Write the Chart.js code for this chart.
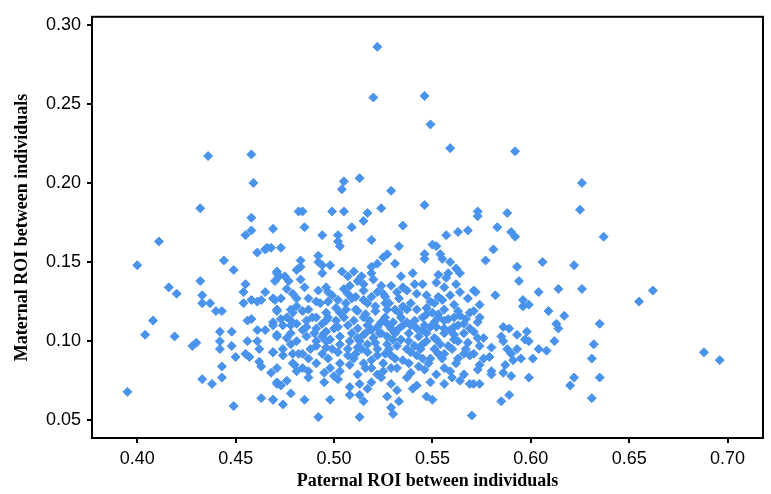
<!DOCTYPE html>
<html>
<head>
<meta charset="utf-8">
<script src="https://cdn.jsdelivr.net/npm/chart.js@4.4.0/dist/chart.umd.min.js"></script>
<style>
body{margin:0;background:#fff;}
</style>
</head>
<body>
<canvas id="roiChart" width="771" height="494"></canvas>
<script>
var xTicks = [0.40, 0.45, 0.50, 0.55, 0.60, 0.65, 0.70];
var yTicks = [0.05, 0.10, 0.15, 0.20, 0.25, 0.30];

// [paternal ROI, maternal ROI], one pair per individual
var roiPairs = [
    // sparse top
    [0.522,0.286],[0.520,0.254],[0.546,0.255],[0.549,0.237],[0.559,0.222],[0.436,0.217],[0.458,0.218],[0.592,0.220],
    [0.459,0.200],[0.626,0.200],[0.432,0.184],[0.458,0.178],[0.625,0.183],[0.505,0.201],[0.513,0.203],[0.504,0.196],
    [0.529,0.195],[0.546,0.186],[0.482,0.182],[0.484,0.182],[0.499,0.182],[0.505,0.182],[0.517,0.181],[0.524,0.184],
    [0.515,0.176],[0.573,0.182],[0.573,0.179],[0.588,0.181],
    // left part
    [0.411,0.163],[0.400,0.148],[0.455,0.167],[0.458,0.170],[0.469,0.171],[0.461,0.156],[0.465,0.158],[0.466,0.159],
    [0.444,0.151],[0.449,0.145],[0.432,0.138],[0.416,0.134],[0.420,0.130],[0.455,0.136],[0.454,0.131],[0.465,0.131],
    [0.433,0.129],[0.433,0.124],[0.437,0.124],[0.440,0.119],[0.443,0.119],[0.454,0.124],[0.458,0.126],[0.461,0.125],
    [0.463,0.126],[0.470,0.126],[0.471,0.120],[0.472,0.141],[0.471,0.143],[0.408,0.113],[0.404,0.104],[0.419,0.103],
    [0.428,0.097],[0.430,0.099],[0.442,0.106],[0.442,0.100],[0.442,0.095],[0.448,0.106],[0.448,0.097],[0.450,0.090],
    [0.455,0.092],[0.457,0.090],[0.456,0.113],[0.458,0.114],[0.461,0.107],[0.465,0.107],[0.469,0.112],[0.456,0.100],
    [0.461,0.100],[0.462,0.095],[0.462,0.087],[0.463,0.084],[0.469,0.093],[0.471,0.103],[0.468,0.080],[0.471,0.073],
    [0.443,0.084],[0.443,0.077],[0.433,0.076],[0.438,0.073],[0.395,0.068],[0.449,0.059],[0.463,0.064],[0.469,0.063],
    // 0.47 - 0.52 upper
    [0.485,0.172],[0.494,0.167],[0.502,0.167],[0.503,0.160],[0.502,0.163],[0.509,0.172],[0.519,0.164],[0.473,0.159],
    [0.468,0.159],[0.492,0.154],[0.492,0.150],[0.494,0.148],[0.498,0.148],[0.494,0.143],[0.483,0.151],[0.483,0.147],
    [0.481,0.145],[0.519,0.147],[0.519,0.143],[0.504,0.144],[0.507,0.141],[0.510,0.144],[0.471,0.144],[0.475,0.141],
    [0.477,0.138],[0.470,0.138],[0.483,0.139],[0.485,0.134],[0.514,0.141],[0.512,0.138],[0.515,0.136],[0.520,0.139],
    [0.508,0.135],[0.505,0.133],[0.497,0.131],[0.492,0.132],[0.476,0.133],[0.479,0.130],[0.473,0.127],[0.469,0.127],
    [0.487,0.127],[0.491,0.125],[0.497,0.125],[0.502,0.126],[0.507,0.130],[0.511,0.128],[0.515,0.126],[0.519,0.128],
    [0.522,0.131],[0.481,0.122],[0.484,0.119],[0.478,0.120],[0.471,0.119],[0.473,0.114],[0.478,0.113],[0.486,0.113],
    [0.491,0.115],[0.496,0.118],[0.501,0.121],[0.506,0.120],[0.512,0.119],[0.516,0.117],[0.521,0.119],[0.518,0.113],
    [0.510,0.113],[0.501,0.113],
    // 0.47 - 0.52 lower
    [0.469,0.110],[0.474,0.110],[0.481,0.111],[0.486,0.109],[0.491,0.108],[0.496,0.106],[0.502,0.109],[0.507,0.110],
    [0.512,0.108],[0.517,0.110],[0.522,0.109],[0.471,0.104],[0.476,0.102],[0.486,0.103],[0.491,0.100],[0.498,0.101],
    [0.503,0.103],[0.508,0.100],[0.515,0.104],[0.520,0.102],[0.524,0.105],[0.469,0.093],[0.474,0.091],[0.479,0.092],
    [0.484,0.092],[0.491,0.097],[0.496,0.096],[0.502,0.093],[0.507,0.091],[0.512,0.096],[0.517,0.093],[0.522,0.091],
    [0.480,0.085],[0.481,0.081],[0.487,0.081],[0.471,0.083],[0.495,0.080],[0.500,0.078],[0.503,0.081],[0.508,0.085],
    [0.512,0.079],[0.519,0.083],[0.522,0.079],[0.471,0.074],[0.476,0.075],[0.473,0.072],[0.495,0.074],[0.502,0.076],
    [0.508,0.071],[0.513,0.073],[0.517,0.070],[0.519,0.074],[0.478,0.067],[0.469,0.063],[0.474,0.060],[0.485,0.063],
    [0.498,0.063],[0.508,0.066],[0.513,0.066],[0.515,0.062],[0.492,0.052],[0.513,0.052],
    // 0.52 - 0.57 upper
    [0.535,0.173],[0.557,0.167],[0.563,0.169],[0.568,0.170],[0.533,0.160],[0.550,0.161],[0.552,0.160],[0.554,0.155],
    [0.555,0.152],[0.546,0.155],[0.546,0.152],[0.527,0.155],[0.525,0.153],[0.522,0.149],[0.531,0.149],[0.559,0.150],
    [0.562,0.146],[0.564,0.143],[0.558,0.143],[0.540,0.143],[0.534,0.141],[0.529,0.135],[0.541,0.136],[0.545,0.136],
    [0.553,0.142],[0.557,0.140],[0.552,0.137],[0.556,0.134],[0.562,0.136],[0.564,0.131],[0.571,0.132],[0.568,0.127],
    [0.524,0.135],[0.525,0.130],[0.532,0.131],[0.537,0.132],[0.542,0.130],[0.549,0.125],[0.555,0.126],[0.561,0.123],
    [0.521,0.122],[0.526,0.124],[0.531,0.120],[0.535,0.122],[0.542,0.120],[0.547,0.117],[0.553,0.117],[0.558,0.114],
    [0.564,0.116],[0.569,0.118],[0.573,0.112],[0.524,0.112],[0.530,0.112],[0.537,0.112],[0.546,0.110],[0.551,0.112],
    [0.561,0.109],
    // 0.52 - 0.57 lower
    [0.529,0.108],[0.535,0.110],[0.542,0.108],[0.549,0.109],[0.556,0.108],[0.563,0.110],[0.569,0.108],[0.527,0.098],
    [0.534,0.101],[0.541,0.097],[0.547,0.100],[0.554,0.098],[0.561,0.101],[0.568,0.099],[0.573,0.102],[0.529,0.091],
    [0.535,0.088],[0.542,0.091],[0.549,0.089],[0.556,0.092],[0.563,0.089],[0.569,0.091],[0.525,0.081],[0.532,0.083],
    [0.539,0.080],[0.546,0.082],[0.552,0.079],[0.559,0.081],[0.566,0.079],[0.573,0.082],[0.529,0.073],[0.542,0.072],
    [0.549,0.074],[0.556,0.073],[0.564,0.075],[0.569,0.073],[0.532,0.069],[0.527,0.065],[0.533,0.062],[0.540,0.070],
    [0.547,0.065],[0.550,0.063],[0.529,0.058],[0.530,0.054],[0.570,0.053],
    // dense core
    [0.476,0.115],[0.489,0.115],[0.497,0.115],[0.505,0.115],[0.515,0.115],[0.526,0.115],[0.534,0.115],[0.545,0.115],
    [0.553,0.115],[0.561,0.115],[0.478,0.105],[0.490,0.105],[0.495,0.105],[0.509,0.105],[0.516,0.105],[0.523,0.105],
    [0.531,0.105],[0.538,0.105],[0.547,0.105],[0.556,0.105],[0.566,0.105],[0.474,0.095],[0.488,0.095],[0.499,0.095],
    [0.507,0.095],[0.514,0.095],[0.522,0.095],[0.528,0.095],[0.537,0.095],[0.544,0.095],[0.551,0.095],[0.560,0.095],
    [0.567,0.095],[0.479,0.086],[0.491,0.086],[0.503,0.086],[0.515,0.086],[0.525,0.086],[0.538,0.086],[0.548,0.086],
    [0.562,0.086],[0.493,0.124],[0.506,0.124],[0.517,0.124],[0.528,0.124],[0.539,0.124],[0.551,0.124],
    [0.487,0.120],[0.511,0.120],[0.527,0.120],[0.537,0.120],[0.547,0.121],[0.556,0.120],
    [0.478,0.110],[0.494,0.111],[0.527,0.111],[0.539,0.110],[0.552,0.109],[0.566,0.111],
    [0.481,0.100],[0.496,0.100],[0.513,0.100],[0.521,0.099],[0.530,0.101],[0.538,0.100],[0.552,0.101],[0.563,0.100],
    [0.487,0.089],[0.497,0.089],[0.510,0.089],[0.519,0.088],[0.531,0.089],[0.545,0.089],[0.555,0.089],
    [0.499,0.129],[0.526,0.128],[0.547,0.129],[0.559,0.129],
    [0.487,0.077],[0.524,0.077],[0.537,0.077],[0.560,0.077],
    [0.496,0.134],[0.515,0.132],[0.535,0.134],
    [0.479,0.118],[0.503,0.118],[0.533,0.118],[0.550,0.118],[0.563,0.119],
    [0.484,0.107],[0.500,0.108],[0.519,0.107],[0.533,0.108],[0.545,0.107],[0.559,0.107],
    [0.494,0.103],[0.512,0.102],[0.527,0.103],[0.543,0.103],[0.551,0.102],[0.561,0.104],
    [0.478,0.098],[0.503,0.098],[0.517,0.098],[0.532,0.097],[0.545,0.098],[0.558,0.097],
    [0.482,0.092],[0.494,0.092],[0.511,0.092],[0.526,0.092],[0.539,0.093],[0.553,0.092],[0.566,0.092],
    [0.484,0.083],[0.498,0.083],[0.516,0.083],[0.529,0.083],[0.543,0.084],[0.556,0.083],
    [0.481,0.127],[0.509,0.127],[0.533,0.127],[0.553,0.128],
    [0.496,0.113],[0.541,0.113],[0.556,0.113],[0.567,0.114],
    // right part
    [0.583,0.172],[0.590,0.169],[0.592,0.166],[0.637,0.166],[0.581,0.158],[0.577,0.151],[0.593,0.147],[0.606,0.150],
    [0.622,0.148],[0.594,0.138],[0.572,0.131],[0.582,0.129],[0.604,0.131],[0.614,0.133],[0.626,0.133],[0.596,0.126],
    [0.596,0.122],[0.599,0.123],[0.574,0.123],[0.571,0.119],[0.574,0.115],[0.609,0.119],[0.617,0.116],[0.613,0.111],
    [0.614,0.108],[0.635,0.111],[0.586,0.109],[0.589,0.108],[0.571,0.106],[0.576,0.102],[0.585,0.103],[0.586,0.100],
    [0.593,0.104],[0.598,0.106],[0.597,0.101],[0.599,0.100],[0.612,0.100],[0.632,0.098],[0.580,0.096],[0.574,0.097],
    [0.571,0.092],[0.588,0.095],[0.590,0.092],[0.593,0.095],[0.595,0.089],[0.591,0.088],[0.604,0.095],[0.608,0.094],
    [0.601,0.089],[0.631,0.089],[0.576,0.089],[0.579,0.090],[0.574,0.085],[0.587,0.085],[0.586,0.080],[0.590,0.078],
    [0.580,0.081],[0.580,0.079],[0.599,0.077],[0.635,0.077],[0.622,0.077],[0.620,0.072],[0.571,0.073],[0.574,0.073],
    [0.589,0.066],[0.585,0.062],[0.631,0.064],
    [0.662,0.132],[0.655,0.125],[0.688,0.093],[0.696,0.088]
];

var pointColor = "#4a93ec";
var tickFont = {family: "'Liberation Sans', Arial, sans-serif", size: 18};
var titleFont = {family: "'Liberation Serif', 'Times New Roman', serif", size: 18, weight: "bold"};

var points = [];
for(var i=0;i<roiPairs.length;i++){
    points.push({x: roiPairs[i][0], y: roiPairs[i][1]});
}

// frame round the plot area
var framePlugin = {
    id: "frame",
    afterDraw: function(chart){
        var a = chart.chartArea;
        var c = chart.ctx;
        c.save();
        c.strokeStyle = "#000";
        c.lineWidth = 2;
        c.strokeRect(a.left, a.top, a.right - a.left, a.bottom - a.top);
        c.restore();
    }
};

function axisGrid(){
    return {display: true, drawOnChartArea: false, drawTicks: true, tickLength: 5, color: "#000", lineWidth: 2};
}

var ctx = document.getElementById("roiChart");
var roiChart = new Chart(ctx, {
    type: "scatter",
    data: {
        datasets: [{
            data: points,
            pointStyle: "rectRot",
            pointRadius: 4.5,
            pointHoverRadius: 4.5,
            backgroundColor: pointColor,
            borderColor: pointColor,
            borderWidth: 1
        }]
    },
    options: {
        responsive: false,
        animation: false,
        devicePixelRatio: 1,
        layout: {padding: {top: 10, right: 8, left: 0, bottom: 0}},
        plugins: {legend: {display: false}, tooltip: {enabled: false}},
        scales: {
            x: {
                type: "linear",
                min: 0.377,
                max: 0.718,
                afterBuildTicks: function(s){ s.ticks = xTicks.map(function(v){ return {value: v}; }); },
                afterFit: function(s){ s.height = 56; },
                grid: axisGrid(),
                border: {display: false},
                ticks: {
                    color: "#000", font: tickFont, padding: 5, maxRotation: 0, autoSkip: false,
                    callback: function(v){ return v.toFixed(2); }
                },
                title: {display: true, text: "Paternal ROI between individuals", color: "#000", font: titleFont, padding: {top: 0, bottom: 2}}
            },
            y: {
                type: "linear",
                min: 0.0388,
                max: 0.305,
                afterBuildTicks: function(s){ s.ticks = yTicks.map(function(v){ return {value: v}; }); },
                afterFit: function(s){ s.width = 92; },
                grid: axisGrid(),
                border: {display: false},
                ticks: {
                    color: "#000", font: tickFont, padding: 6, autoSkip: false,
                    callback: function(v){ return v.toFixed(2); }
                },
                title: {display: true, text: "Maternal ROI between individuals", color: "#000", font: titleFont, padding: {top: 12, bottom: 0}}
            }
        }
    },
    plugins: [framePlugin]
});
</script>
</body>
</html>
